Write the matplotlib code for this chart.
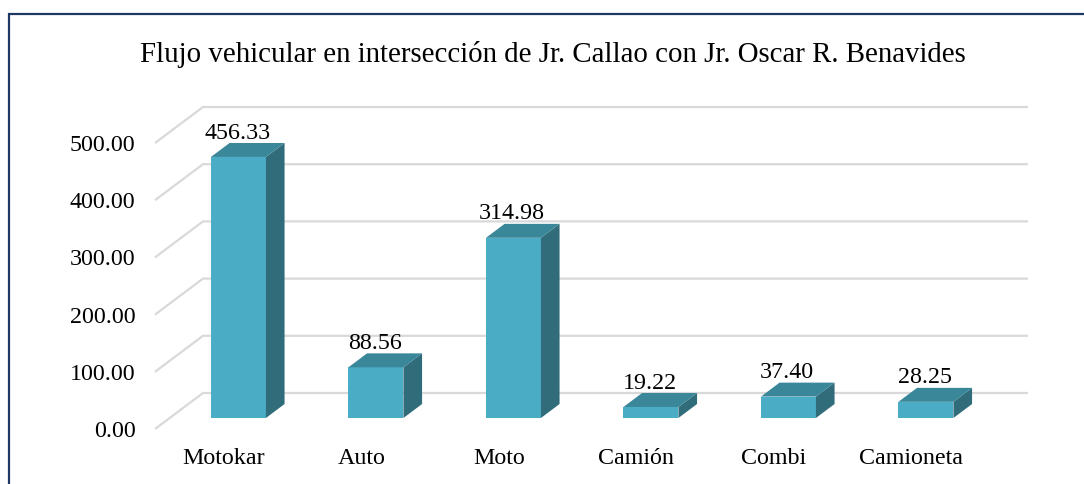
import matplotlib.pyplot as plt
from matplotlib.patches import Polygon, Rectangle
import numpy as np

plt.rcParams['font.family'] = ['Liberation Serif', 'DejaVu Serif']

title = 'Flujo vehicular en intersección de Jr. Callao con Jr. Oscar R. Benavides'
categories = ['Motokar', 'Auto', 'Moto', 'Camión', 'Combi', 'Camioneta']
values = [456.33, 88.56, 314.98, 19.22, 37.40, 28.25]
yticks = [0, 100, 200, 300, 400, 500]

face = '#4BACC6'
side = '#306C7A'
top = '#3A879A'
grid_c = '#D9D9D9'

W, H = 1084, 484
fig = plt.figure(figsize=(W / 100, H / 100), dpi=100)

# front plane of the 3D box: x 155..980 px, y 429 (0) .. 143 (500) px
ax = fig.add_axes([155 / W, (H - 429) / H, 825 / W, 286 / H])
ax.set_xlim(-0.5, len(categories) - 0.5)
ax.set_ylim(0, 500)
for s in ax.spines.values():
    s.set_visible(False)
ax.tick_params(length=0)

# depth of the floor in data units (48 px right, 36 px up)
dxf = 48 / 137.5
dyf = 36 / 0.572
f0, f1 = 0.306, 0.694
bw = 0.4

# gridlines on the back wall + diagonal on the left wall
x0, x1 = -0.5, len(categories) - 0.5
for v in yticks:
    ax.plot([x0, x0 + dxf, x1 + dxf], [v, v + dyf, v + dyf],
            color=grid_c, lw=1.6, zorder=1, clip_on=False, solid_capstyle='butt')

xs = np.arange(len(categories))
for x, v in zip(xs, values):
    xl = x - bw / 2 + f0 * dxf
    xr = x + bw / 2 + f0 * dxf
    yb = f0 * dyf
    ddx = (f1 - f0) * dxf
    ddy = (f1 - f0) * dyf
    ax.bar(xl + bw / 2, v, width=bw, bottom=yb, color=face, zorder=3, clip_on=False)
    ax.add_patch(Polygon([(xr, yb), (xr + ddx, yb + ddy), (xr + ddx, yb + v + ddy), (xr, yb + v)],
                         closed=True, facecolor=side, edgecolor='none', zorder=3, clip_on=False))
    ax.add_patch(Polygon([(xl, yb + v), (xr, yb + v), (xr + ddx, yb + v + ddy), (xl + ddx, yb + v + ddy)],
                         closed=True, facecolor=top, edgecolor='none', zorder=3, clip_on=False))
    ax.text(x + f0 * dxf - 0.01, v + f1 * dyf - 1, f'{v:.2f}', ha='center', va='bottom',
            fontsize=17.3, zorder=4, clip_on=False)

ax.set_yticks(yticks)
ax.set_yticklabels([f'{v:.2f}' for v in yticks], fontsize=17.3)
ax.tick_params(axis='y', pad=14)
ax.set_xticks(xs)
ax.set_xticklabels(categories, fontsize=17.3)
ax.tick_params(axis='x', pad=14)

fig.text(553 / W, 1 - 54 / H, title, ha='center', va='center', fontsize=20.8)

fig.patches.append(Rectangle((9 / W, -0.1), 1.2, 1 - 14 / H + 0.1, transform=fig.transFigure,
                             fill=False, edgecolor='#1F3864', lw=1.6))

fig.savefig('out.png', dpi=100)
